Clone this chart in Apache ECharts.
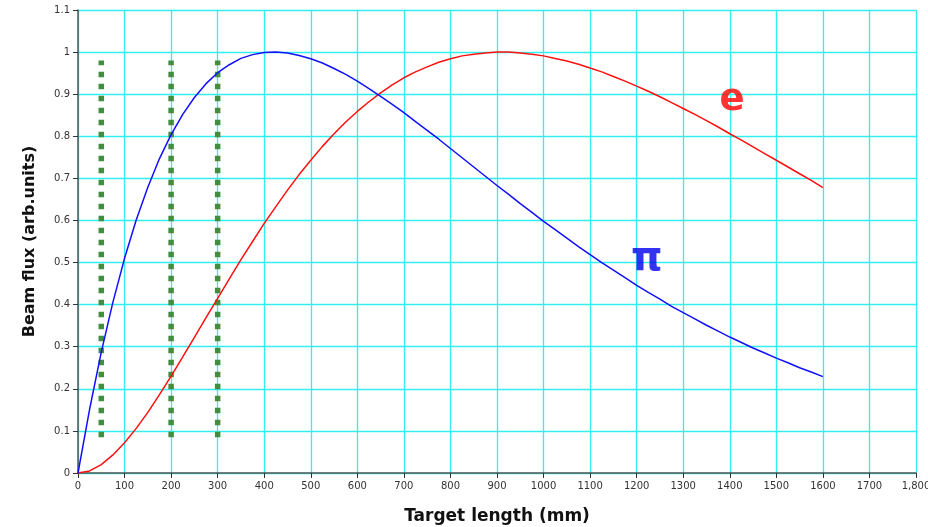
<!DOCTYPE html>
<html>
<head>
<meta charset="utf-8">
<script src="https://cdn.jsdelivr.net/npm/echarts@6/dist/echarts.min.js"></script>
<style>
html,body{margin:0;padding:0;background:#fff;}
#chart{width:928px;height:527px;}
</style>
</head>
<body>
<div id="chart"></div>
<script>
// Target length (mm) sample positions
var xValues = [0,25,50,75,100,125,150,175,200,225,250,275,300,325,350,375,400,425,450,475,500,525,550,575,600,625,650,675,700,725,750,775,800,825,850,875,900,925,950,975,1000,1025,1050,1075,1100,1125,1150,1175,1200,1225,1250,1275,1300,1325,1350,1375,1400,1425,1450,1475,1500,1525,1550,1575,1600];
// pion flux (blue)
var piFlux = [0,0.152,0.287,0.406,0.510,0.601,0.679,0.747,0.804,0.852,0.892,0.925,0.951,0.970,0.985,0.994,0.999,1.000,0.998,0.992,0.984,0.974,0.961,0.947,0.931,0.913,0.895,0.876,0.856,0.835,0.814,0.793,0.771,0.749,0.727,0.705,0.683,0.662,0.640,0.619,0.598,0.578,0.558,0.538,0.519,0.500,0.482,0.464,0.446,0.429,0.413,0.396,0.381,0.366,0.351,0.337,0.323,0.310,0.297,0.285,0.273,0.262,0.250,0.240,0.229];
// electron flux (red)
var eFlux = [0,0.005,0.020,0.043,0.072,0.106,0.144,0.186,0.230,0.276,0.322,0.369,0.415,0.461,0.507,0.550,0.593,0.633,0.672,0.709,0.743,0.776,0.806,0.834,0.859,0.882,0.903,0.922,0.939,0.953,0.965,0.976,0.984,0.991,0.995,0.998,1.000,1.000,0.998,0.995,0.991,0.985,0.979,0.971,0.962,0.953,0.942,0.931,0.919,0.907,0.894,0.880,0.866,0.852,0.837,0.822,0.806,0.791,0.775,0.759,0.743,0.727,0.711,0.695,0.678];
// vertical dotted marker lines (x position, y bottom, y top)
var markerX = [50,200,300];
var markerYRange = [0.085,0.98];
// text annotations
var labels = [
  {text:'e', x:1405, y:0.886},
  {text:'π', x:1222, y:0.506}
];

function pairs(xs, ys){ return xs.map(function(x,i){return [x, ys[i]];}); }

var series = [];
markerX.forEach(function(mx){
  series.push({
    type:'line', data:[[mx, markerYRange[0]],[mx, markerYRange[1]]],
    symbol:'none', silent:true, z:3,
    lineStyle:{color:'#3f8f3f', width:5.5, type:[5.5,6.5], cap:'butt'}
  });
});
series.push({
  type:'line', name:'e', data:pairs(xValues,eFlux), smooth:false, symbol:'none', z:4,
  lineStyle:{color:'#ff1010', width:1.5}
});
series.push({
  type:'line', name:'pi', data:pairs(xValues,piFlux), smooth:false, symbol:'none', z:4,
  lineStyle:{color:'#1010ff', width:1.5}
});
series.push({
  type:'scatter', symbolSize:0, z:5, silent:true,
  data:[
    {value:[labels[0].x, labels[0].y], label:{show:true, position:'inside', formatter:labels[0].text, color:'#ff0000', fontSize:37, fontWeight:'bold', fontFamily:'DejaVu Sans'}},
    {value:[labels[1].x, labels[1].y], label:{show:true, position:'inside', formatter:labels[1].text, color:'#0000ee', fontSize:40, fontWeight:'bold', fontFamily:'DejaVu Sans'}}
  ]
});

var chart = echarts.init(document.getElementById('chart'));
chart.setOption({
  animation:false,
  backgroundColor:'#ffffff',
  grid:{left:78, right:12, top:10, bottom:54, containLabel:false, outerBoundsMode:'none'},
  xAxis:{
    type:'value', min:0, max:1800, interval:100,
    name:'Target length (mm)', nameLocation:'middle', nameGap:35,
    nameTextStyle:{fontFamily:'DejaVu Sans', fontWeight:'bold', fontSize:17, color:'#111'},
    axisLine:{show:true, onZero:false, lineStyle:{color:'#555', width:1.5}},
    axisTick:{show:true, length:5, lineStyle:{color:'#333'}},
    axisLabel:{fontFamily:'DejaVu Sans', fontSize:10, color:'#333', margin:8,
      formatter:function(v){ return v===1800 ? '1,800' : String(v); }},
    splitLine:{show:true, lineStyle:{color:'#33eeee', width:1.3}}
  },
  yAxis:{
    type:'value', min:0, max:1.1, interval:0.1,
    name:'Beam flux (arb.units)', nameLocation:'middle', nameGap:40,
    nameTextStyle:{fontFamily:'DejaVu Sans', fontWeight:'bold', fontSize:16, color:'#111'},
    axisLine:{show:true, lineStyle:{color:'#555', width:1.5}},
    axisTick:{show:true, length:5, lineStyle:{color:'#333'}},
    axisLabel:{fontFamily:'DejaVu Sans', fontSize:10, color:'#333', margin:8},
    splitLine:{show:true, lineStyle:{color:'#33eeee', width:1.3}}
  },
  series:series
});
</script>
</body>
</html>
